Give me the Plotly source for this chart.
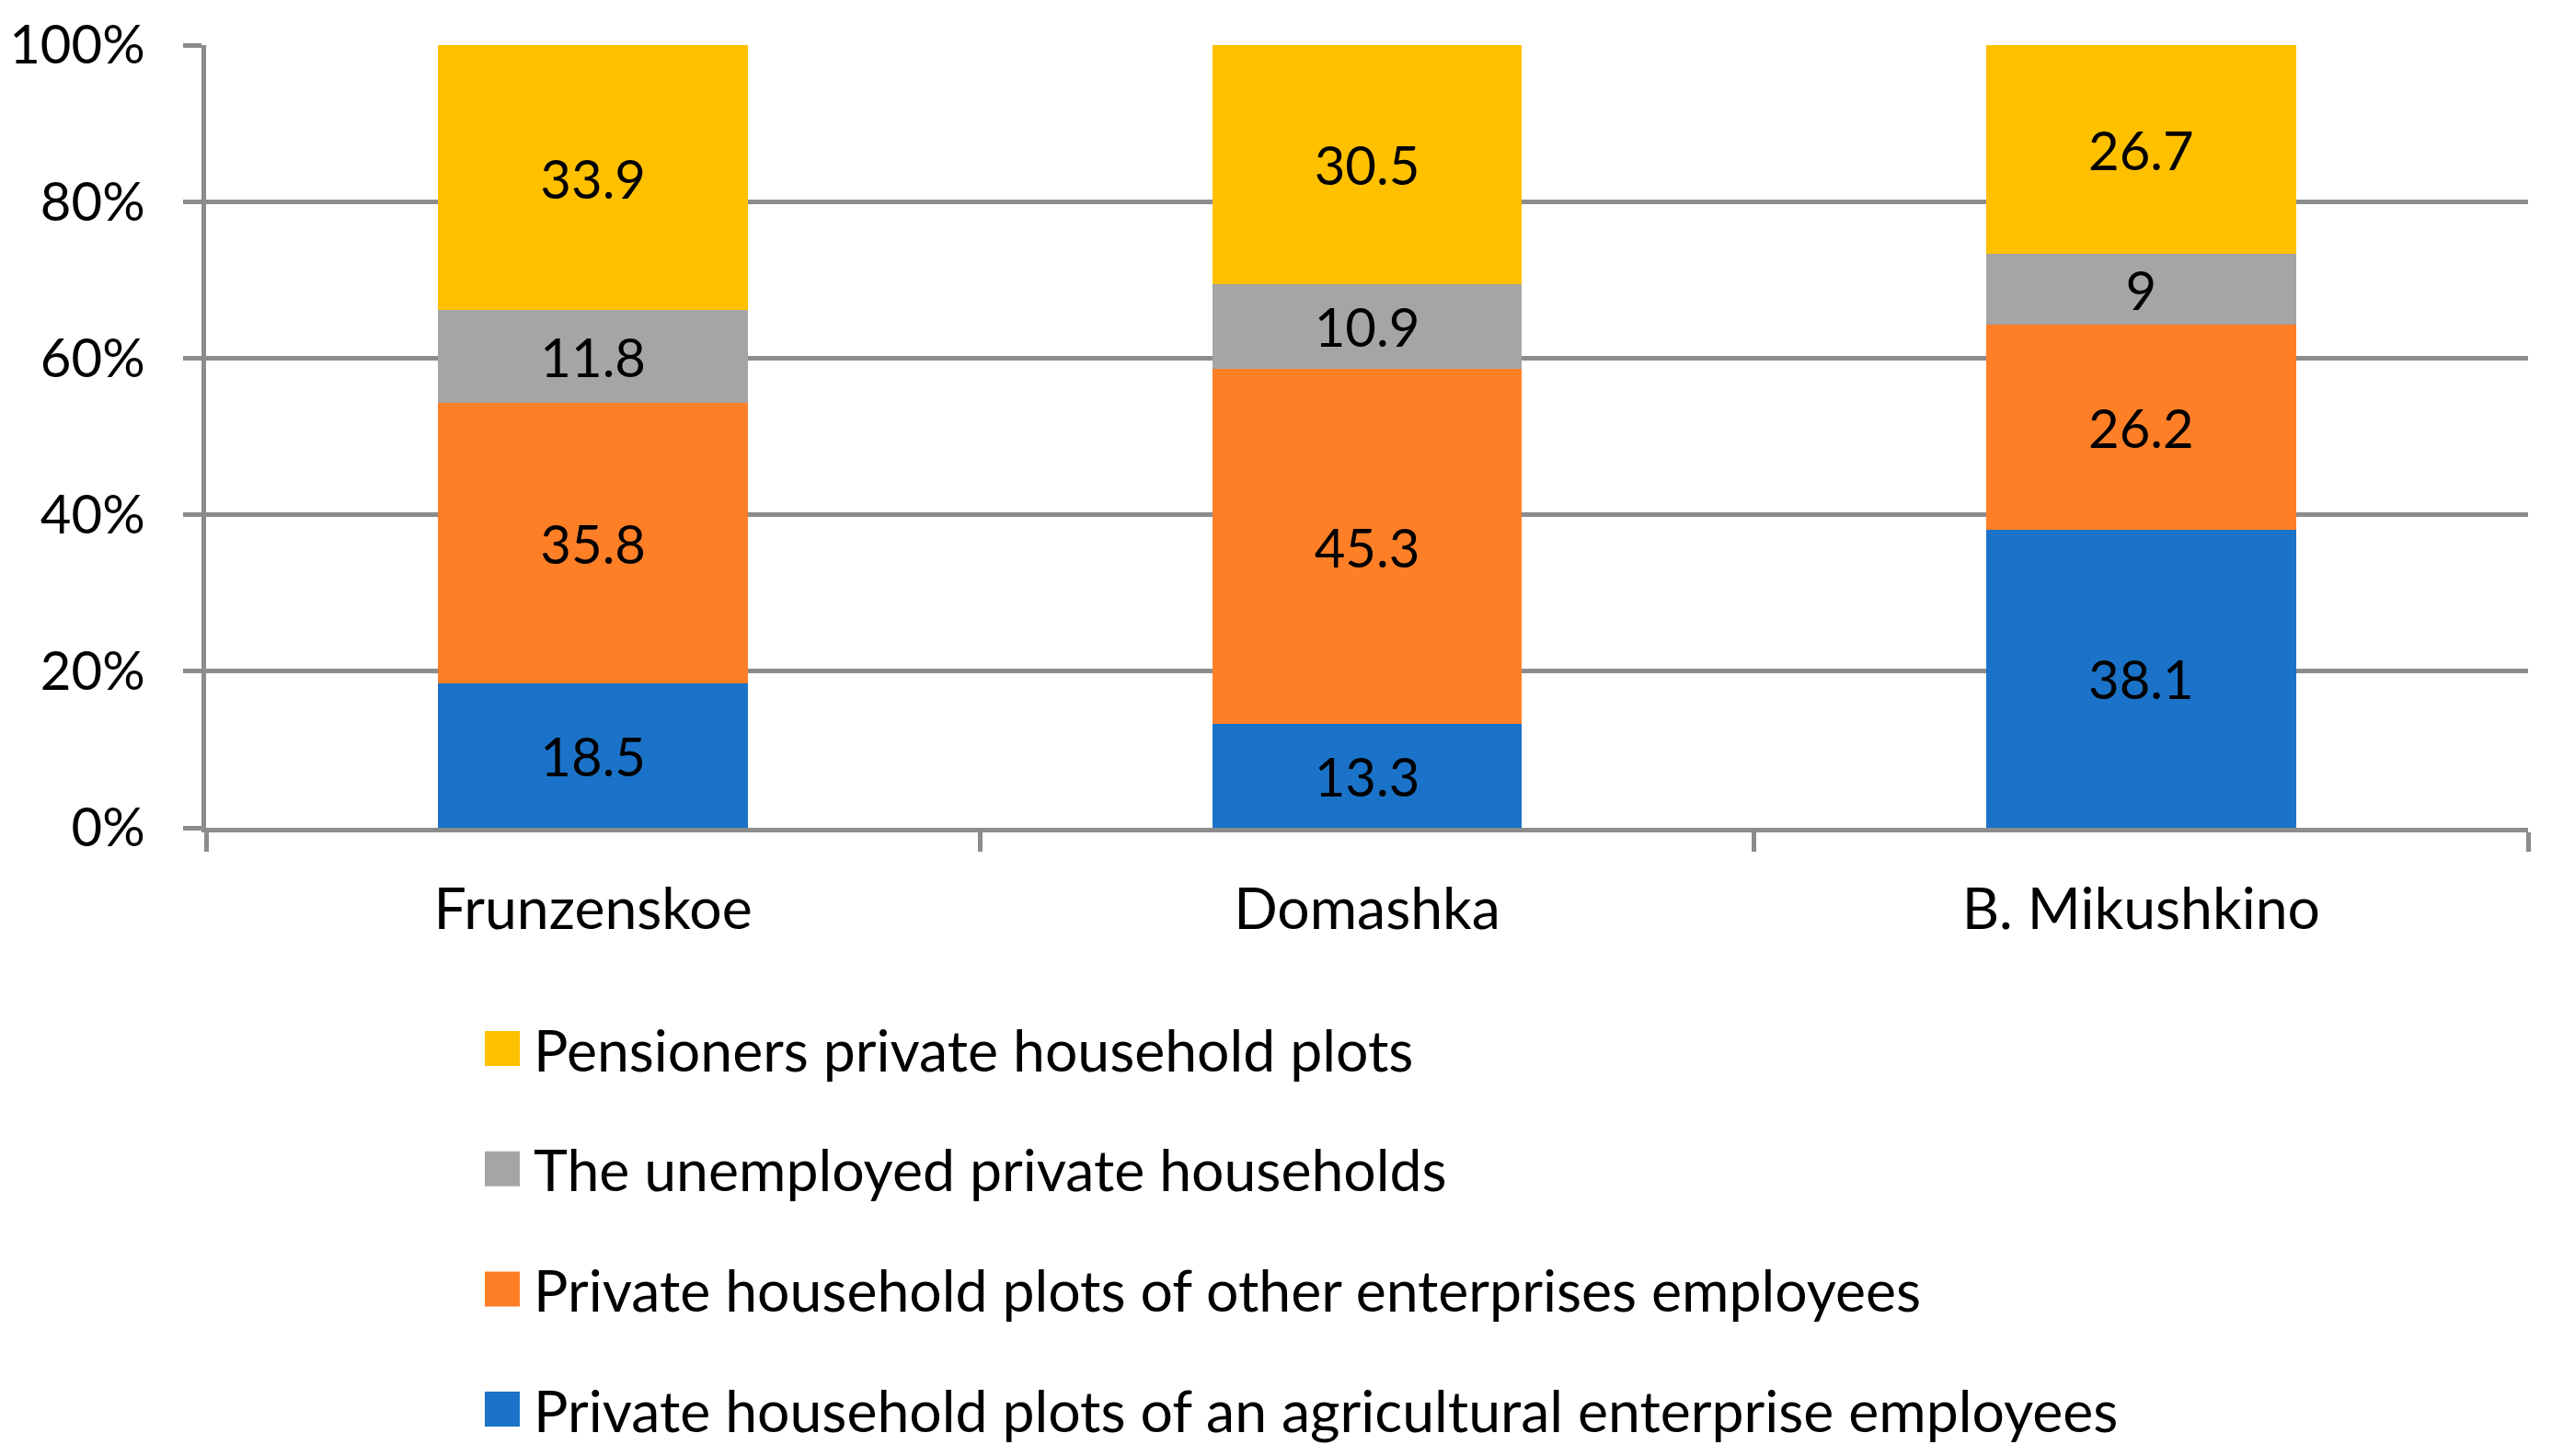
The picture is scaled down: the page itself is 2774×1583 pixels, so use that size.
import plotly.graph_objects as go

# ---- data ----
categories = ["Frunzenskoe", "Domashka", "B. Mikushkino"]
agri_employees = [18.5, 13.3, 38.1]
other_employees = [35.8, 45.3, 26.2]
unemployed = [11.8, 10.9, 9]
pensioners = [33.9, 30.5, 26.7]
series_names = [
    "Private household plots of an agricultural enterprise employees",
    "Private household plots of other enterprises employees",
    "The unemployed private households",
    "Pensioners private household plots",
]
y_tick_values = [0, 20, 40, 60, 80, 100]
y_tick_labels = ["0%", "20%", "40%", "60%", "80%", "100%"]

series_values = [agri_employees, other_employees, unemployed, pensioners]
colors = ["#1A73C8", "#FF7F27", "#A5A5A5", "#FFC000"]

# page has an 8px body margin, so figure coords = page coords - 8
OFF = 8
W, H = 2774 - OFF, 1583 - OFF
L = 224 - OFF
R = W - (2748 - OFF)
T = 49 - OFF
B = H - (900 - OFF)
PW, PH = W - L - R, H - T - B
FONT = "Lato, Carlito, 'Liberation Sans', sans-serif"
GRID = "#8C8C8C"
FS_NUM = 58
FS_TXT = 62.5


def px_x(x):
    return (x - OFF - L) / PW


def px_y(y):
    return (H - B - (y - OFF)) / PH


fig = go.Figure()
for name, vals, col in zip(series_names, series_values, colors):
    fig.add_trace(go.Bar(
        x=categories, y=vals, name=name,
        marker=dict(color=col, line=dict(width=0)),
        text=[f"{v:g}" for v in vals],
        textposition="inside", insidetextanchor="middle", textangle=0,
        textfont=dict(family=FONT, size=FS_NUM, color="black"),
        showlegend=False, hoverinfo="x+y+name",
    ))

# manual legend (top to bottom: reversed series order)
shapes = []
annotations = []
row0, row_gap = 1140, 130.7
for i, idx in enumerate(reversed(range(len(series_names)))):
    cy = row0 + i * row_gap
    shapes.append(dict(
        type="rect", xref="paper", yref="paper",
        x0=px_x(527), x1=px_x(565), y0=px_y(cy - 19), y1=px_y(cy + 19),
        fillcolor=colors[idx], line=dict(width=0),
    ))
    annotations.append(dict(
        xref="paper", yref="paper", x=px_x(578), y=px_y(cy),
        xanchor="left", yanchor="middle", showarrow=False,
        text=series_names[idx], font=dict(family=FONT, size=FS_TXT, color="black"),
    ))

fig.update_layout(
    width=W, height=H,
    margin=dict(l=L, r=R, t=T, b=B, autoexpand=False),
    barmode="stack", bargap=0.6,
    plot_bgcolor="white", paper_bgcolor="white",
    font=dict(family=FONT, size=FS_NUM, color="black"),
    uniformtext=dict(mode="show", minsize=FS_NUM),
    shapes=shapes, annotations=annotations,
    showlegend=False,
)
fig.update_xaxes(
    type="category", showline=True, linecolor=GRID, linewidth=4.5,
    ticks="outside", tickson="boundaries", ticklen=21, tickwidth=4.5, tickcolor=GRID,
    showgrid=False, tickfont=dict(family=FONT, size=FS_TXT, color="black"),
    ticklabelstandoff=30,
)
fig.update_yaxes(
    range=[0, 100], tickvals=y_tick_values, ticktext=y_tick_labels,
    showline=True, linecolor=GRID, linewidth=4.5,
    ticks="outside", ticklen=20, tickwidth=4.5, tickcolor=GRID,
    showgrid=True, gridcolor=GRID, gridwidth=4.5, zeroline=False,
    tickfont=dict(family=FONT, size=FS_NUM, color="black"),
    ticklabelstandoff=30,
)

fig.write_html("out.html")
